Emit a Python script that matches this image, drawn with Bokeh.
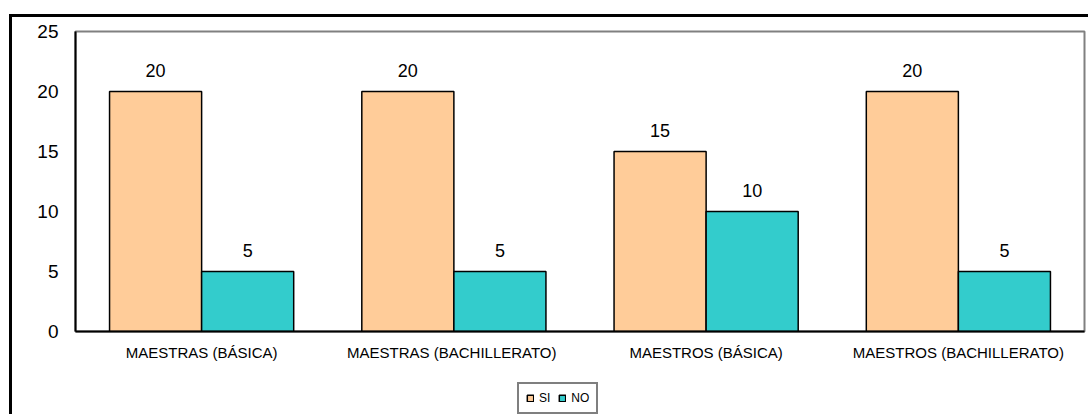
from bokeh.plotting import figure
from bokeh.layouts import column
from bokeh.models import (ColumnDataSource, FactorRange, LabelSet, Legend, LegendItem,
                          FixedTicker, Range1d)
from bokeh.core.properties import value
from bokeh.transform import dodge
from bokeh.embed import file_html
from bokeh.resources import INLINE

categories = ["MAESTRAS (BÁSICA)", "MAESTRAS  (BACHILLERATO)", "MAESTROS (BÁSICA)", "MAESTROS (BACHILLERATO)"]
si_values = [20, 20, 15, 20]
no_values = [5, 5, 10, 5]
series_names = ["SI", "NO"]
series_colors = ["#FFCC99", "#33CCCC"]
y_ticks = [0, 5, 10, 15, 20, 25]

source = ColumnDataSource(data=dict(cat=categories, si=si_values, no=no_values,
                                    si_lbl=[str(v) for v in si_values],
                                    no_lbl=[str(v) for v in no_values]))

FONT = "Liberation Sans"
bw = 0.365

p = figure(x_range=FactorRange(*categories, range_padding=0), y_range=(0, 25),
           width=1088, height=370, output_backend="svg", toolbar_location=None,
           min_border_left=75, min_border_right=4, min_border_top=31, min_border_bottom=39)
p.x_range.range_padding = 0

p.vbar(x=dodge("cat", -bw / 2, range=p.x_range), top="si", width=bw, source=source,
       fill_color=series_colors[0], line_color="black", line_width=1.5)
p.vbar(x=dodge("cat", bw / 2, range=p.x_range), top="no", width=bw, source=source,
       fill_color=series_colors[1], line_color="black", line_width=1.5)

for col, lbl, off in (("si", "si_lbl", -bw / 2), ("no", "no_lbl", bw / 2)):
    p.add_layout(LabelSet(x=dodge("cat", off, range=p.x_range), y=col, text=lbl, source=source,
                          y_offset=15, text_align="center", text_baseline="alphabetic",
                          text_font=value(FONT), text_font_size=value("18px"), text_color="black"))

p.xgrid.grid_line_color = None
p.ygrid.grid_line_color = None
p.outline_line_color = "#808080"
p.outline_line_width = 2
p.background_fill_color = "white"
p.border_fill_color = None

p.yaxis.ticker = FixedTicker(ticks=y_ticks)
p.yaxis.major_tick_line_color = None
p.yaxis.minor_tick_line_color = None
p.yaxis.major_tick_out = 0
p.yaxis.major_label_standoff = 17
p.yaxis.major_label_text_font = FONT
p.yaxis.major_label_text_font_size = "19px"
p.yaxis.major_label_text_color = "black"
p.yaxis.axis_line_color = "black"
p.yaxis.axis_line_width = 2

p.xaxis.major_tick_line_color = None
p.xaxis.major_tick_out = 0
p.xaxis.major_label_standoff = 12
p.xaxis.major_label_text_font = FONT
p.xaxis.major_label_text_font_size = "15px"
p.xaxis.major_label_text_color = "black"
p.xaxis.axis_line_color = "black"
p.xaxis.axis_line_width = 2

# legend strip below the chart (same series as hidden renderers; only the legend shows)
lg = figure(width=1088, height=44, output_backend="svg", toolbar_location=None,
            x_range=FactorRange(*categories), y_range=Range1d(0, 25),
            min_border_left=0, min_border_right=0, min_border_top=0, min_border_bottom=0)
lg.axis.visible = False
lg.grid.grid_line_color = None
lg.outline_line_color = None
lg.background_fill_color = None
lg.border_fill_color = None
items = []
for name, col, color, off in zip(series_names, ["si", "no"], series_colors, [-bw / 2, bw / 2]):
    r = lg.vbar(x=dodge("cat", off, range=lg.x_range), top=col, width=bw, source=source,
                fill_color=color, line_color="black", line_width=1.5)
    r.visible = False
    items.append(LegendItem(label=name, renderers=[r]))
legend = Legend(items=items, orientation="horizontal", location=(442, 0),
                label_text_font=FONT, label_text_font_size="12px", label_text_color="black",
                glyph_width=8, glyph_height=8, label_standoff=5, spacing=8,
                padding=7, margin=0, border_line_color="black", border_line_width=2,
                label_height=11, label_width=0, background_fill_color="white",
                click_policy="none", inactive_fill_alpha=0)
lg.add_layout(legend, "center")

layout = column(p, lg, spacing=0)
layout.styles = {
    "background": ("linear-gradient(black, black) 9px 14px / 3px 420px no-repeat, "
                   "linear-gradient(black, black) 9px 14px / 1100px 3px no-repeat, white"),
}

open("out.html", "w").write(file_html(layout, INLINE))
